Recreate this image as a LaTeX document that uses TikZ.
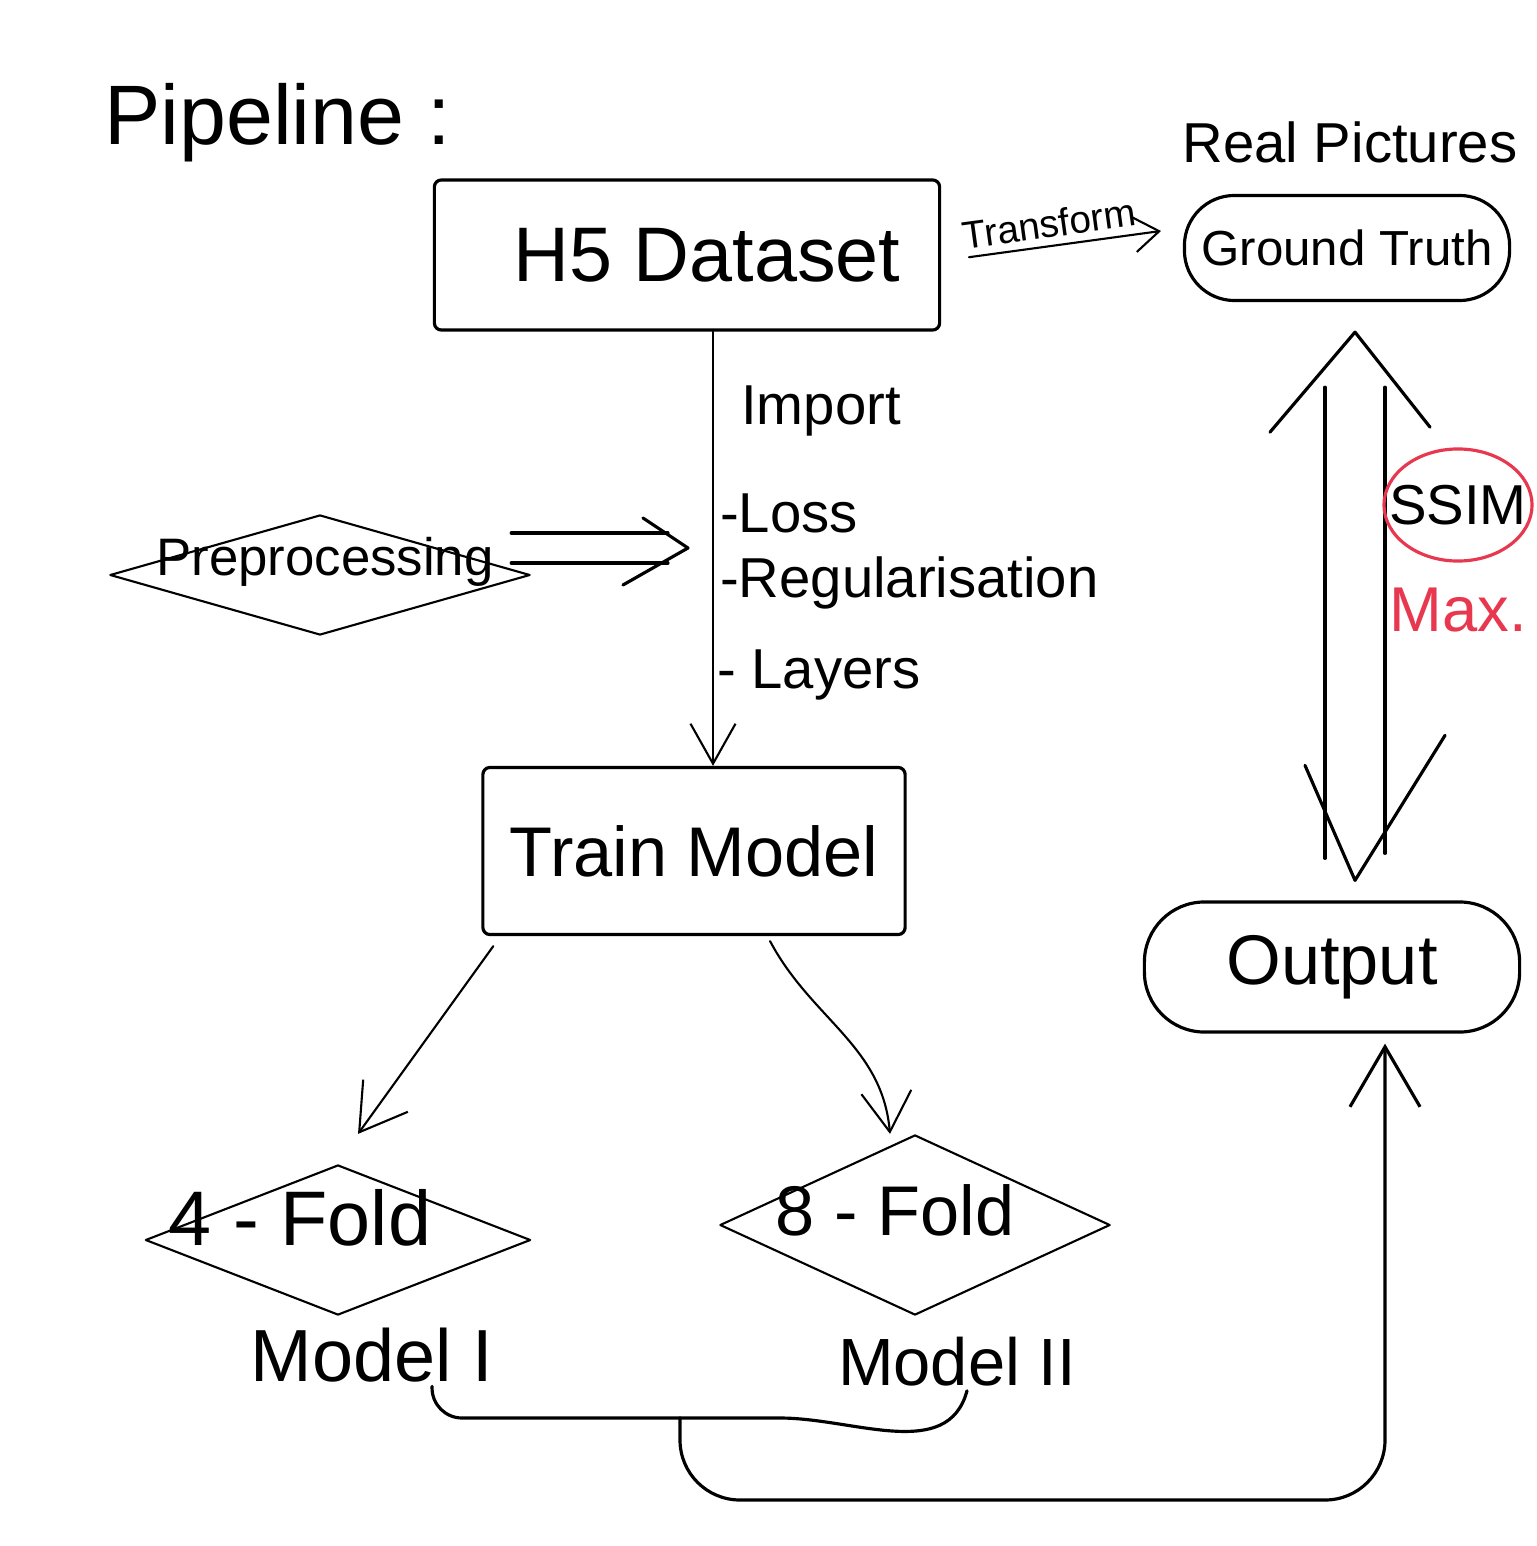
\documentclass[tikz,border=0pt]{standalone}
\usepackage{fontspec}
\setmainfont{Liberation Sans}
\usetikzlibrary{positioning,arrows.meta,shapes.geometric,calc}
\definecolor{inkRed}{HTML}{E8384F}
\tikzset{
  hand/.style={line width=0.9pt, line cap=round, line join=round},
  fine/.style={line width=0.6pt, line cap=round, line join=round},
  box/.style={draw, hand, rounded corners=2pt, inner sep=2pt},
  blob/.style={draw, hand, rounded corners=6mm, inner sep=2pt},
  kite/.style={draw, fine, diamond, inner sep=0pt},
  txt/.style={inner sep=1pt},
  flow/.style={fine, -{Straight Barb[length=4mm, width=6mm]}},
  % the two-line "=>" arrows are drawn stroke by stroke
  dbl/.style={hand},
}
\newcommand{\hsz}[1]{\fontsize{#1}{#1}\selectfont}

\begin{document}
\begin{tikzpicture}[x=0.01cm, y=-0.01cm]
\path[use as bounding box, fill=white] (0,0) rectangle (1536,1546);

%% ── title ────────────────────────────────────────────────────────────
\node[txt, anchor=base west, font=\hsz{24}] (title) at (100,145) {Pipeline :};

%% ── dataset and ground truth ─────────────────────────────────────────
\node[box, minimum width=5.05cm, minimum height=1.5cm, font=\hsz{22}] (data)
  at (687,255) {\hspace{4mm}H5 Dataset};
\node[blob, rounded corners=5mm, minimum width=3.25cm, minimum height=1.05cm,
  font=\hsz{14}] (gt) at (1347,248) {Ground Truth};
\node[txt, font=\hsz{16}] (real) at (1350,142) {Real Pictures};

\draw[fine, -{Straight Barb[length=2.5mm, width=3.5mm]},
  shorten <=2.8mm, shorten >=2.2mm]
  ([yshift=-0.6mm]data.east) --
  node[txt, sloped, above=1pt, xshift=-1mm, font=\hsz{11}] (tf) {Transform}
  ([yshift=2mm]gt.west);

%% ── import into training ─────────────────────────────────────────────
\coordinate (imp) at (713,0);
\node[box, minimum width=4.22cm, minimum height=1.67cm, font=\hsz{20}] (train)
  at (694,851) {Train Model};
\draw[flow, -{Straight Barb[length=4mm, width=4.5mm]}]
  (data.south -| imp) -- (train.north -| imp);

\node[txt, anchor=base west, font=\hsz{16}] (import) at (737,425) {Import};
\node[txt, anchor=base west, font=\hsz{16}] (loss) at (716,532) {-Loss};
\node[txt, anchor=base west, font=\hsz{16}] (reg) at (716,597) {-Regularisation};
\node[txt, anchor=base west, font=\hsz{16}] (layers) at (713,688) {- Layers};

%% ── preprocessing feeds the import step ──────────────────────────────
\node[kite, minimum width=4.2cm, minimum height=1.2cm] (prep) at (320,575) {};
\node[txt, font=\hsz{15}] (preptxt) at (325,562) {Preprocessing};

\coordinate (pa) at ([xshift=-2mm, yshift=2.7mm]prep.east);
\coordinate (pb) at ([xshift=-2.5mm]pa -| imp);
\draw[dbl] ([yshift=1.5mm]pa) -- ([shift={(-2mm,1.5mm)}]pb);
\draw[dbl] ([yshift=-1.5mm]pa) -- ([shift={(-2mm,-1.5mm)}]pb);
\draw[dbl] ([shift={(-4.5mm,3mm)}]pb) -- (pb) -- ([shift={(-6.5mm,-3.7mm)}]pb);

%% ── the two folds ────────────────────────────────────────────────────
\node[kite, minimum width=3.85cm, minimum height=1.5cm] (fold4) at (338,1240) {};
\node[txt, font=\hsz{22}] (f4txt) at (300,1218) {4 - Fold};
\node[txt, font=\hsz{21}] (mI) at (372,1355) {Model I};

\node[kite, minimum width=3.9cm, minimum height=1.8cm] (fold8) at (915,1225) {};
\node[txt, font=\hsz{20}] (f8txt) at (895,1210) {8 - Fold};
\node[txt, font=\hsz{19}] (mII) at (957,1362) {Model II};

\draw[flow, -{Straight Barb[length=4.5mm, width=5.5mm]}]
  ([shift={(1.2mm,-1mm)}]train.south west) -- ([shift={(2mm,3mm)}]fold4.north);
\draw[flow, -{Straight Barb[length=4mm, width=5mm]}]
  ([shift={(7.6mm,-0.5mm)}]train.south) to[out=-62, in=95]
  ([xshift=-2.5mm]fold8.north);

%% ── both models join and go to the output ────────────────────────────
\node[blob, minimum width=3.75cm, minimum height=1.3cm, font=\hsz{20}] (out)
  at (1332,967) {Output};

\coordinate (join) at (680,1418);
\coordinate (turn) at (1385,1500);
\draw[hand, rounded corners=3mm] ([xshift=6mm]mI.south) |- (join);
\draw[hand] (join) -- ++(100,0) to[out=0, in=-105] ([xshift=1mm]mII.south);
\draw[hand, rounded corners=6mm, -{Straight Barb[length=6mm, width=7mm]},
  shorten >=1mm] (join) |- (turn) -- (out.south -| turn);

%% ── output compared with the ground truth ────────────────────────────
\coordinate (vx) at (1355,0);
\coordinate (vtop) at ([yshift=-3mm]gt.south -| vx);
\coordinate (vbot) at ([yshift=2mm]out.north -| vx);
\draw[dbl] ([shift={(-3mm,-5.5mm)}]vtop) -- ([shift={(-3mm,2.2mm)}]vbot);
\draw[dbl] ([shift={(3mm,-5.5mm)}]vtop) -- ([shift={(3mm,2.7mm)}]vbot);
\draw[dbl] ([shift={(-8.5mm,-10mm)}]vtop) -- (vtop) -- ([shift={(7.5mm,-9.5mm)}]vtop);
\draw[dbl] ([shift={(-5mm,11.5mm)}]vbot) -- (vbot) -- ([shift={(9mm,14.5mm)}]vbot);

\node[txt, font=\hsz{16}] (ssim) at (1458,505) {SSIM};
\draw[inkRed, hand] (ssim.center) ellipse [x radius=7.4mm, y radius=5.6mm];
\node[txt, text=inkRed, font=\hsz{18}] (max) at (1458,610) {Max.};

\end{tikzpicture}
\end{document}
